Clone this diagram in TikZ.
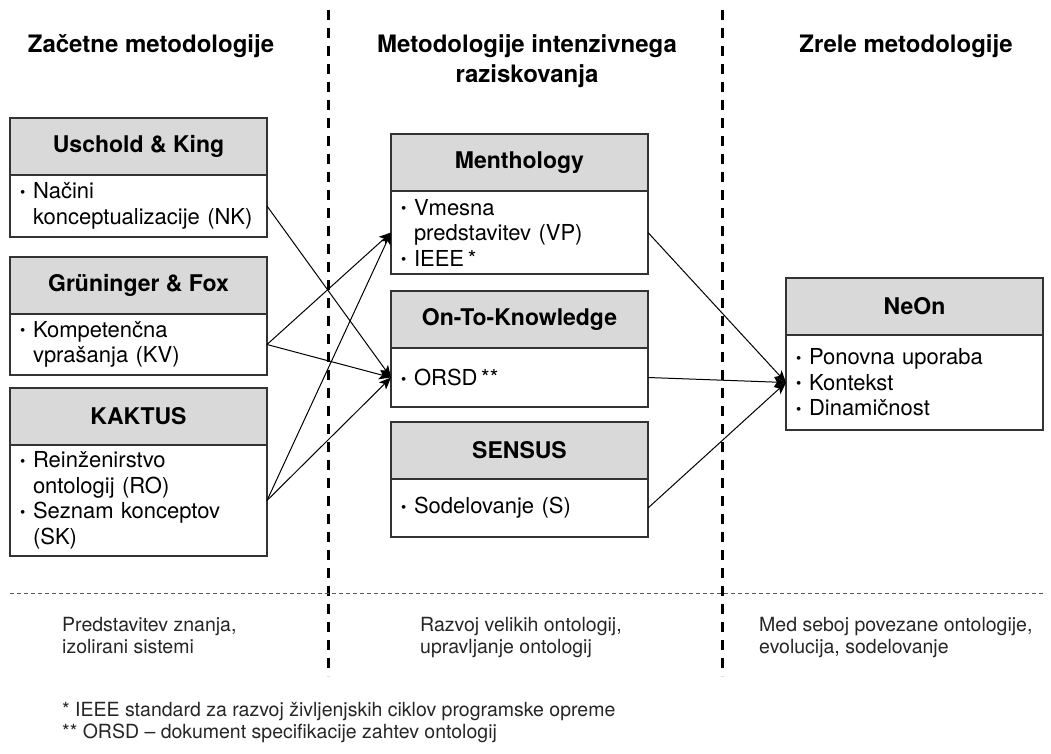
\documentclass[tikz,border=0pt]{standalone}
\usepackage{fontspec}
\setmainfont{TeX Gyre Heros}
\usetikzlibrary{positioning,arrows.meta}

\newcommand{\bl}{\makebox[13pt][l]{\raisebox{1.5pt}{\fontsize{15}{15}\selectfont\textbullet}}}
\newcommand{\subln}{\hspace*{13pt}}

\tikzset{
  hdr/.style={draw=black!80, fill=black!15, line width=1.3pt, outer sep=0pt, inner sep=0pt,
    minimum width=257pt, minimum height=57pt, anchor=north west,
    font=\fontsize{23}{27}\selectfont\bfseries},
  bdy/.style={draw=black!80, line width=1.3pt, outer sep=0pt, inner xsep=10pt, inner ysep=0pt,
    text width=237pt, align=left, font=\fontsize{22}{25.5}\selectfont},
  arr/.style={-{Stealth[length=12pt,width=10pt,inset=3pt]}, line width=1pt},
  col/.style={font=\fontsize{24}{30}\selectfont\bfseries, align=center, inner sep=0pt},
  note/.style={font=\fontsize{19.5}{22}\selectfont, text=black!85, align=left, inner sep=0pt, anchor=north west}
}

\begin{document}
\begin{tikzpicture}[x=1pt,y=-1pt]
  \path[use as bounding box, fill=white] (0,0) rectangle (1051,753);
  % column separators
  \foreach \x in {328,722}
    \draw[line width=3pt, dash pattern=on 10pt off 8pt] (\x,10) -- (\x,676);
  \draw[black!65, line width=1pt, dash pattern=on 4pt off 3pt] (10,593) -- (1045,593);

  % headings
  \node[col, anchor=base] (zac) at (151,52) {Začetne metodologije};
  \node[col, anchor=north] (int) at (527,34) {Metodologije intenzivnega\\raziskovanja};
  \node[col, anchor=base] (zre) at (906,52) {Zrele metodologije};

  % left column
  \node[hdr] (uk) at (10,118) {Uschold \& King};
  \node[bdy, below=0pt of uk, minimum height=62pt] (ukb) {\bl Načini\\\subln konceptualizacije (NK)};
  \node[hdr] (gf) at (10,257) {Grüninger \& Fox};
  \node[bdy, below=0pt of gf, minimum height=61pt] (gfb) {\bl Kompetenčna\\\subln vprašanja (KV)};
  \node[hdr] (kk) at (10,388) {KAKTUS};
  \node[bdy, below=0pt of kk, minimum height=111pt] (kkb) {\bl Reinženirstvo\\\subln ontologij (RO)\\\bl Seznam konceptov\\\subln (SK)};

  % middle column
  \node[hdr] (me) at (391,134) {Menthology};
  \node[bdy, below=0pt of me, minimum height=83pt] (meb) {\bl Vmesna\\\subln predstavitev (VP)\\\bl IEEE\thinspace*};
  \node[hdr] (otk) at (391,291) {On-To-Knowledge};
  \node[bdy, below=0pt of otk, minimum height=59pt] (otkb) {\bl ORSD\thinspace**};
  \node[hdr] (se) at (391,422) {SENSUS};
  \node[bdy, below=0pt of se, minimum height=58pt] (seb) {\bl Sodelovanje (S)};

  % right column
  \node[hdr] (ne) at (786,278) {NeOn};
  \node[bdy, below=0pt of ne, minimum height=95pt] (neb) {\bl Ponovna uporaba\\\bl Kontekst\\\bl Dinamičnost};

  \foreach \a/\b in {ukb/otkb, gfb/meb, gfb/otkb, kkb/meb, kkb/otkb, meb/neb, otkb/neb, seb/neb}
    \draw[arr] (\a.east) -- (\b.west);

  % bottom notes
  \node[note] (n1) at (62,617) {Predstavitev znanja,\\izolirani sistemi};
  \node[note] (n2) at (420,617) {Razvoj velikih ontologij,\\upravljanje ontologij};
  \node[note] (n3) at (759,617) {Med seboj povezane ontologije,\\evolucija, sodelovanje};
  \node[note] (fn) at (62,702) {* IEEE standard za razvoj življenjskih ciklov programske opreme\\** ORSD – dokument specifikacije zahtev ontologij};
\end{tikzpicture}
\end{document}
